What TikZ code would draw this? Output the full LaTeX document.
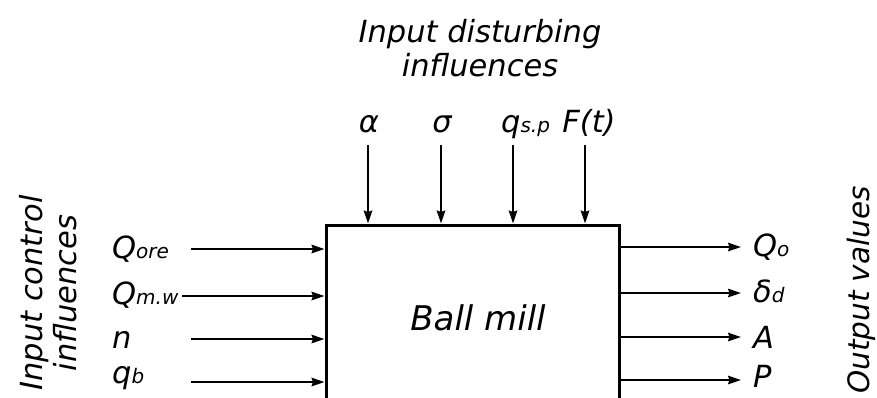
\documentclass[tikz,border=0pt]{standalone}
\usepackage{fontspec}
\setmainfont{DejaVu Sans}[ItalicFont={DejaVu Sans Oblique}]
\usetikzlibrary{arrows.meta}
\newcommand{\lblfont}{\fontsize{30.5}{34}\selectfont\itshape}
\newcommand{\bigfont}{\fontsize{34}{40}\selectfont\itshape}
\newcommand{\mysub}[1]{{\fontsize{20}{22}\selectfont #1}}
\begin{document}
\begin{tikzpicture}[x=1pt,y=-1pt,
  arr/.style={line width=1.7pt,-{Stealth[length=13pt,width=8.5pt,inset=1.5pt]}},
  lab/.style={inner sep=0pt,font=\lblfont}]
\useasboundingbox (0,0) rectangle (877,397);
\fill[white] (0,0) rectangle (877,397);
\begin{scope}
\clip (0,0) rectangle (877,397);
\node[draw,line width=3.3pt,inner sep=0pt,minimum width=293pt,minimum height=220pt,anchor=north west] (mill) at (324.5,223.5) {};
\end{scope}
\node[inner sep=0pt,font=\bigfont,anchor=base] (millname) at (478,330) {Ball mill};
% title
\node[lab,align=center,anchor=north] (title) at (480,19) {Input disturbing\\influences};
% top labels
\node[lab,anchor=base] (alpha) at (369,132) {α};
\node[lab,anchor=base] (sigma) at (442,132) {σ};
\node[lab,anchor=base west] (qsp) at (501,132) {q\mysub{s.p}};
\node[lab,anchor=base] (Ft) at (589,132) {F(t)};
\coordinate (t1) at (368,145);
\coordinate (t2) at (441,145);
\coordinate (t3) at (513,145);
\coordinate (t4) at (585,145);
\foreach \t in {t1,t2,t3,t4} \draw[arr] (\t) -- (\t |- mill.north);
% left labels
\node[lab,anchor=base west] (Qore) at (112,258) {Q\mysub{ore}};
\node[lab,anchor=base west] (Qmw) at (112,304) {Q\mysub{m.w}};
\node[lab,anchor=base west] (n) at (112,348) {n};
\node[lab,anchor=base west] (qb) at (112,383) {q\mysub{b}};
\coordinate (l1) at (191,249);
\coordinate (l2) at (182,296);
\coordinate (l3) at (191,339);
\coordinate (l4) at (191,382);
\foreach \l in {l1,l2,l3,l4} \draw[arr] (\l) -- (\l -| mill.west);
% right
\coordinate (r1) at (741,247);
\coordinate (r2) at (741,293);
\coordinate (r3) at (741,337);
\coordinate (r4) at (741,380);
\foreach \r in {r1,r2,r3,r4} \draw[arr] (\r -| mill.east) -- (\r);
\node[lab,anchor=base west] (Qo) at (753,256) {Q\mysub{o}};
\node[lab,anchor=base west] (dd) at (753,302) {δ\mysub{d}};
\node[lab,anchor=base west] (A) at (753,348) {A};
\node[lab,anchor=base west] (P) at (753,387) {P};
% rotated side labels
\node[lab,align=center,rotate=90,anchor=center,font=\fontsize{30.5}{34}\selectfont\itshape] (inctrl) at (48,293) {Input control\\influences};
\node[lab,rotate=90,anchor=base,font=\fontsize{29.5}{34}\selectfont\itshape] (outv) at (869,290) {Output values};
\end{tikzpicture}
\end{document}
